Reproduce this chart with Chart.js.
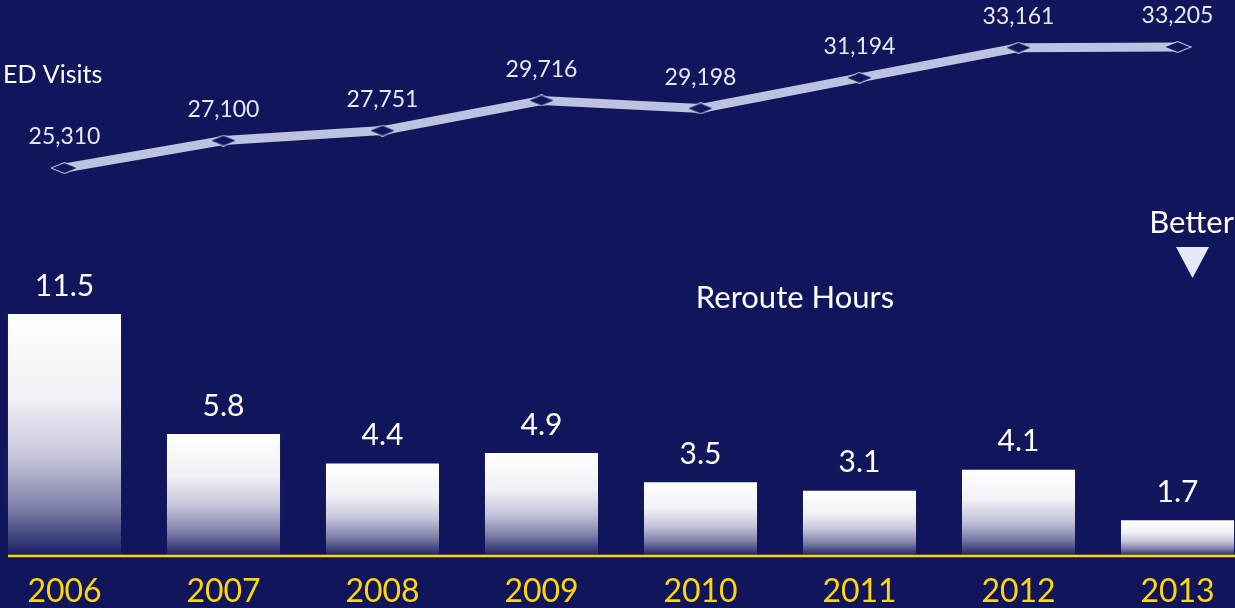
<!DOCTYPE html>
<html>
<head>
<meta charset="utf-8">
<script src="https://cdn.jsdelivr.net/npm/chart.js@4"></script>
<style>
  html, body { margin: 0; padding: 0; background: #11165c; overflow: hidden; }
  #wrap { position: absolute; left: -15px; top: 0; width: 1272px; height: 608px; }
</style>
</head>
<body>
<div id="wrap"><canvas id="c"></canvas></div>
<script>
const years = ['2006', '2007', '2008', '2009', '2010', '2011', '2012', '2013'];
const rerouteHours = [11.5, 5.8, 4.4, 4.9, 3.5, 3.1, 4.1, 1.7];
const edVisits = [25310, 27100, 27751, 29716, 29198, 31194, 33161, 33205];
const lineTitle = 'ED Visits';
const barTitle = 'Reroute Hours';
const betterLabel = 'Better';

const BG = '#11165c';
const YELLOW = '#ffd60a';
const LINE = '#bcc3e1';
const FONT = 'Lato, "Open Sans", sans-serif';

// flattened diamond marker
const marker = document.createElement('canvas');
marker.width = 28; marker.height = 12;
(function () {
  const m = marker.getContext('2d');
  m.beginPath();
  m.moveTo(0.5, 6); m.lineTo(14, 0.5); m.lineTo(27.5, 6); m.lineTo(14, 11.5); m.closePath();
  m.fillStyle = BG; m.fill();
  m.strokeStyle = '#d4d8ee'; m.lineWidth = 1; m.stroke();
})();

function barGradient(ctx) {
  const chart = ctx.chart;
  const ys = chart.scales && chart.scales.y;
  if (!chart.chartArea || !ys || ctx.raw === undefined) return '#ffffff';
  const top = ys.getPixelForValue(ctx.raw);
  const base = ys.getPixelForValue(0);
  if (!isFinite(top) || !isFinite(base)) return '#ffffff';
  const g = chart.ctx.createLinearGradient(0, top, 0, base);
  g.addColorStop(0, '#ffffff');
  g.addColorStop(0.35, '#f1f1f6');
  g.addColorStop(0.6, '#c2c3d8');
  g.addColorStop(0.8, '#7e80a8');
  g.addColorStop(1, '#181d62');
  return g;
}

const overlay = {
  id: 'overlay',
  afterDatasetsDraw(chart) {
    const c = chart.ctx;
    const ca = chart.chartArea;
    const bars = chart.getDatasetMeta(1).data;
    const pts = chart.getDatasetMeta(0).data;
    c.save();
    // yellow baseline
    const left = bars[0].x - bars[0].width / 2;
    c.strokeStyle = YELLOW;
    c.lineWidth = 2.5;
    c.beginPath();
    c.moveTo(left, ca.bottom);
    c.lineTo(ca.right, ca.bottom);
    c.stroke();

    // bar value labels
    c.fillStyle = '#ffffff';
    c.textAlign = 'center';
    c.textBaseline = 'middle';
    c.font = '30px ' + FONT;
    bars.forEach((b, i) => {
      c.fillText(rerouteHours[i].toFixed(1), b.x, b.y - 28);
    });

    // line value labels
    c.fillStyle = '#e6e8f4';
    c.font = '23px ' + FONT;
    pts.forEach((p, i) => {
      c.fillText(edVisits[i].toLocaleString('en-US'), p.x, p.y - 31);
    });

    // titles
    c.textAlign = 'left';
    c.font = '25px ' + FONT;
    c.fillStyle = '#ffffff';
    c.fillText(lineTitle, 18, 75);
    c.textAlign = 'center';
    c.font = '31px ' + FONT;
    c.fillText(barTitle, 810, 298);
    c.textAlign = 'right';
    c.fillText(betterLabel, 1249, 223);

    // triangle
    c.fillStyle = '#e6e8f5';
    c.beginPath();
    c.moveTo(1191, 247);
    c.lineTo(1224, 247);
    c.lineTo(1207.5, 278);
    c.closePath();
    c.fill();
    c.restore();
  }
};

new Chart(document.getElementById('c'), {
  data: {
    labels: years,
    datasets: [
      {
        type: 'line',
        label: lineTitle,
        data: edVisits,
        yAxisID: 'y2',
        borderColor: LINE,
        borderWidth: 9,
        tension: 0,
        pointStyle: marker,
        pointRadius: 12,
        clip: false,
        order: 0
      },
      {
        type: 'bar',
        label: barTitle,
        data: rerouteHours,
        yAxisID: 'y',
        backgroundColor: barGradient,
        borderWidth: 0,
        categoryPercentage: 1,
        barPercentage: 0.711,
        order: 1
      }
    ]
  },
  options: {
    responsive: true,
    maintainAspectRatio: false,
    animation: false,
    layout: { padding: 0, autoPadding: false },
    plugins: { legend: { display: false }, tooltip: { enabled: false } },
    scales: {
      x: {
        grid: { display: false },
        border: { display: false },
        ticks: { color: YELLOW, font: { family: FONT, size: 32 }, padding: 8, maxRotation: 0 },
        afterFit(s) { s.height = 52; }
      },
      y: { display: false, min: 0, max: 26.43 },
      y2: { display: false, min: 0, max: 36270 }
    }
  },
  plugins: [overlay]
});
</script>
</body>
</html>
